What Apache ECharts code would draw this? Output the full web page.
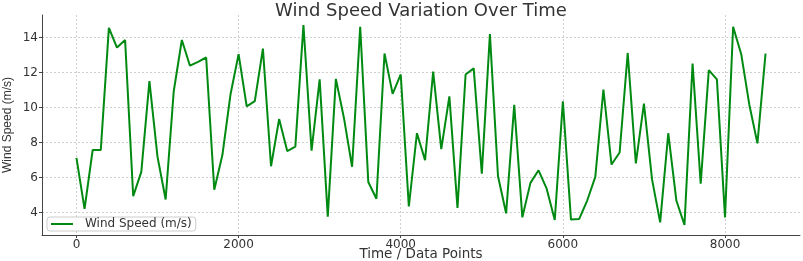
<!DOCTYPE html>
<html>
<head>
<meta charset="utf-8">
<script src="https://cdn.jsdelivr.net/npm/echarts@6/dist/echarts.min.js"></script>
<style>
  html, body { margin: 0; padding: 0; background: #fff; }
  #wind-line { width: 803px; height: 261px; }
</style>
</head>
<body>
<div id="wind-line"></div>
<script>
// sample positions along the x axis
var timePoints = [
  0, 100, 200, 300, 400, 500, 600, 700, 800, 900,
  1000, 1100, 1200, 1300, 1400, 1500, 1600, 1700, 1800, 1900,
  2000, 2100, 2200, 2300, 2400, 2500, 2600, 2700, 2800, 2900,
  3000, 3100, 3200, 3300, 3400, 3500, 3600, 3700, 3800, 3900,
  4000, 4100, 4200, 4300, 4400, 4500, 4600, 4700, 4800, 4900,
  5000, 5100, 5200, 5300, 5400, 5500, 5600, 5700, 5800, 5900,
  6000, 6100, 6200, 6300, 6400, 6500, 6600, 6700, 6800, 6900,
  7000, 7100, 7200, 7300, 7400, 7500, 7600, 7700, 7800, 7900,
  8000, 8100, 8200, 8300, 8400, 8500
];
// wind speed (m/s)
var windSpeed = [
  7.13, 4.21, 7.58, 7.58, 14.56, 13.44, 13.87, 4.94, 6.33, 11.52,
  7.19, 4.75, 10.94, 13.87, 12.40, 12.62, 12.87, 5.31, 7.29, 10.75,
  13.06, 10.08, 10.37, 13.38, 6.65, 9.35, 7.52, 7.77, 14.73, 7.54,
  11.62, 3.77, 11.65, 9.40, 6.62, 14.63, 5.75, 4.79, 13.10, 10.79,
  11.90, 4.35, 8.54, 7.00, 12.06, 7.63, 10.65, 4.27, 11.90, 12.25,
  6.23, 14.21, 6.08, 3.96, 10.17, 3.73, 5.70, 6.42, 5.37, 3.58,
  10.37, 3.60, 3.63, 4.69, 6.04, 11.04, 6.75, 7.44, 13.13, 6.81,
  10.23, 5.90, 3.44, 8.54, 4.69, 3.29, 12.52, 5.65, 12.15, 11.62,
  3.73, 14.63, 13.06, 10.17, 7.96, 13.10
];
var xTicks = [0, 2000, 4000, 6000, 8000];
var yTicks = [4, 6, 8, 10, 12, 14];

var points = [];
for (var i = 0; i < timePoints.length; i++) {
  points.push([timePoints[i], windSpeed[i]]);
}

var myChart = echarts.init(document.getElementById('wind-line'));
var gridLine = { show: true, lineStyle: { color: '#cfcfcf', type: [2, 2], width: 1 } };
var option = {
  animation: false,
  title: {
    text: 'Wind Speed Variation Over Time',
    left: 416,
    textAlign: 'center',
    top: -3,
    textStyle: {
      color: '#333',
      fontFamily: 'DejaVu Sans',
      fontSize: 18,
      fontWeight: 'normal'
    }
  },
  legend: {
    left: 47,
    top: 217,
    padding: [1, 4],
    itemWidth: 22,
    itemHeight: 2,
    icon: 'rect',
    borderColor: '#cccccc',
    borderWidth: 1,
    borderRadius: 3,
    backgroundColor: 'rgba(255,255,255,0.85)',
    textStyle: { color: '#333', fontFamily: 'DejaVu Sans', fontSize: 12, padding: [0, 0, 0, 7] },
    data: ['Wind Speed (m/s)']
  },
  grid: { left: 42, right: 3, top: 15, bottom: 26, outerBoundsMode: 'none', containLabel: false },
  xAxis: {
    type: 'value',
    min: -425,
    max: 8925,
    name: 'Time / Data Points',
    nameLocation: 'middle',
    nameGap: 12,
    nameMoveOverlap: false,
    nameTextStyle: { color: '#333', fontFamily: 'DejaVu Sans', fontSize: 13.5 },
    axisLine: { show: true, onZero: false, lineStyle: { color: '#444', width: 1 } },
    axisTick: { show: true, length: 3, customValues: xTicks, lineStyle: { color: '#444' } },
    axisLabel: {
      customValues: xTicks, color: '#333', fontFamily: 'DejaVu Sans', fontSize: 12, margin: 4,
      formatter: function (v) { return String(v); }
    },
    splitLine: gridLine
  },
  yAxis: {
    type: 'value',
    min: 2.72,
    max: 15.3,
    name: 'Wind Speed (m/s)',
    nameLocation: 'middle',
    nameGap: 28,
    nameMoveOverlap: false,
    nameTextStyle: { color: '#333', fontFamily: 'Liberation Sans Narrow, Liberation Sans', fontSize: 12 },
    axisLine: { show: true, onZero: false, lineStyle: { color: '#444', width: 1 } },
    axisTick: { show: true, length: 3, customValues: yTicks, lineStyle: { color: '#444' } },
    axisLabel: { customValues: yTicks, color: '#333', fontFamily: 'DejaVu Sans', fontSize: 12, margin: 4 },
    splitLine: gridLine
  },
  series: [
    {
      name: 'Wind Speed (m/s)',
      type: 'line',
      symbol: 'none',
      data: points,
      lineStyle: { color: '#008a12', width: 2 },
      itemStyle: { color: '#008a12' }
    }
  ]
};
myChart.setOption(option);
</script>
</body>
</html>
